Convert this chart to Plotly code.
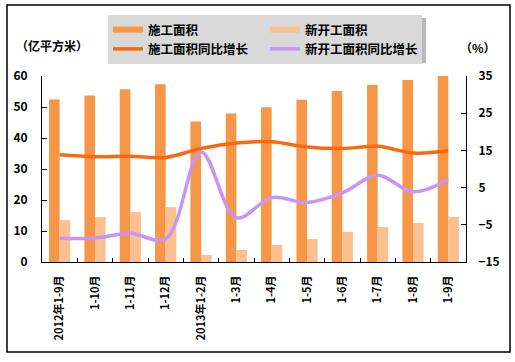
import plotly.graph_objects as go

categories = ['2012年1-9月', '1-10月', '1-11月', '1-12月', '2013年1-2月', '1-3月',
              '1-4月', '1-5月', '1-6月', '1-7月', '1-8月', '1-9月']
construction_area = [52.4, 53.7, 55.7, 57.3, 45.3, 47.9, 49.9, 52.3, 55.2, 57.1, 58.7, 60.0]
new_start_area = [13.5, 14.5, 16.1, 17.7, 2.3, 3.9, 5.5, 7.4, 9.7, 11.3, 12.6, 14.5]
construction_growth = [13.8, 13.3, 13.4, 13.1, 15.5, 17.0, 17.3, 15.9, 15.5, 16.1, 14.3, 14.9]
new_start_growth = [-8.6, -8.6, -7.3, -8.8, 14.6, -3.1, 2.3, 1.0, 3.6, 8.3, 3.9, 7.2]

W, H = 515, 362
L, R, T, B = 42, 466, 76, 262  # plot area in pixels


def px(x):
    return (x - L) / (R - L)


def py(y):
    return (B - y) / (B - T)


FONT = "Noto Sans CJK SC"
C_BAR1 = "#F79646"
C_BAR2 = "#FAC090"
C_LINE1 = "#F96A0E"
C_LINE2 = "#C795F7"

fig = go.Figure()
fig.add_trace(go.Bar(x=categories, y=construction_area, name="施工面积",
                     marker=dict(color=C_BAR1, line_width=0), showlegend=False))
fig.add_trace(go.Bar(x=categories, y=new_start_area, name="新开工面积",
                     marker=dict(color=C_BAR2, line_width=0), showlegend=False))
# legend samples for bars (thick short lines, as in the original legend)
fig.add_trace(go.Scatter(x=[None], y=[None], mode="lines", name="<b>施工面积</b>",
                         line=dict(color=C_BAR1, width=6), legendrank=1))
fig.add_trace(go.Scatter(x=[None], y=[None], mode="lines", name="<b>新开工面积</b>",
                         line=dict(color=C_BAR2, width=6), legendrank=2))
fig.add_trace(go.Scatter(x=categories, y=construction_growth, name="<b>施工面积同比增长</b>",
                         mode="lines", yaxis="y2", legendrank=3,
                         line=dict(color=C_LINE1, width=3.5, shape="spline", smoothing=1)))
fig.add_trace(go.Scatter(x=categories, y=new_start_growth, name="<b>新开工面积同比增长</b>",
                         mode="lines", yaxis="y2", legendrank=4,
                         line=dict(color=C_LINE2, width=3.5, shape="spline", smoothing=1)))

tickfont = dict(family=FONT, size=12, color="black", weight="bold")

fig.update_layout(
    width=W, height=H,
    margin=dict(l=L, r=W - R, t=T, b=H - B, pad=0),
    paper_bgcolor="white", plot_bgcolor="white",
    barmode="group", bargap=0.4, bargroupgap=0,
    font=dict(family=FONT, color="black"),
    xaxis=dict(type="category", showline=True, linecolor="black", linewidth=1,
               ticks="inside", tickson="boundaries", ticklen=4, tickcolor="black",
               tickangle=-90, tickfont=dict(family=FONT, size=11, color="black", weight="bold"),
               showgrid=False, ticklabelstandoff=8, automargin=False),
    yaxis=dict(range=[0, 60], dtick=10, showline=True, linecolor="black", linewidth=1,
               ticks="inside", ticklen=5, tickcolor="black", tickfont=tickfont,
               showgrid=False, zeroline=False, ticklabelstandoff=11, automargin=False),
    yaxis2=dict(range=[-15, 35], tick0=-15, dtick=10, overlaying="y", side="right",
                showline=True, linecolor="black", linewidth=1,
                ticks="inside", ticklen=5, tickcolor="black", tickfont=tickfont,
                showgrid=False, zeroline=False, ticklabelstandoff=9, automargin=False),
    legend=dict(orientation="h", xref="container", yref="container",
                x=108 / W, y=1 - 15 / H, xanchor="left", yanchor="top",
                bgcolor="#D9D9D9", entrywidth=112, entrywidthmode="pixels",
                font=dict(family=FONT, size=12.5, color="black"),
                itemwidth=30, traceorder="normal"),
    showlegend=True,
    shapes=[
        # legend shadow
        dict(type="rect", xref="paper", yref="paper", layer="below",
             x0=px(111), x1=px(426), y0=py(18), y1=py(63),
             fillcolor="#A8A8A8", line_width=0, opacity=0.8),
        # outer frame
        dict(type="rect", xref="paper", yref="paper",
             x0=px(7), x1=px(510), y0=py(352), y1=py(5),
             line=dict(color="black", width=1.5), fillcolor="rgba(0,0,0,0)"),
    ],
    annotations=[
        dict(text="<b>（亿平方米）</b>", xref="paper", yref="paper", x=px(14), y=py(46),
             xanchor="left", yanchor="middle", showarrow=False,
             font=dict(family=FONT, size=12, color="black")),
        dict(text="<b>（%）</b>", xref="paper", yref="paper", x=px(458), y=py(48),
             xanchor="left", yanchor="middle", showarrow=False,
             font=dict(family=FONT, size=12, color="black")),
    ],
)

fig.write_html("out.html", config={"displayModeBar": False},
               post_script="document.body.style.margin='0';")
